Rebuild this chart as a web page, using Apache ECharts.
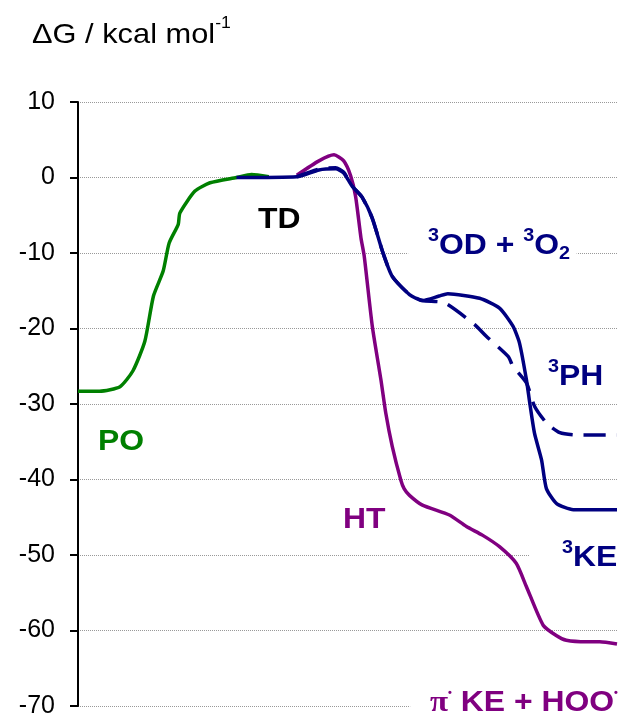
<!DOCTYPE html>
<html>
<head>
<meta charset="utf-8">
<script src="https://cdn.jsdelivr.net/npm/echarts@6/dist/echarts.min.js"></script>
<style>
html, body { margin: 0; padding: 0; background: #fff; }
#chart { width: 627px; height: 720px; }
</style>
</head>
<body>
<div id="chart"></div>
<script>
// reaction coordinate (arbitrary units 0-100) and ΔG in kcal/mol
var poX = [0, 4.0, 7.8, 10.2, 12.4, 14.0, 15.8, 16.9, 18.6, 18.9, 21.7, 24.5, 29.4, 32.2, 35.4];
var poY = [-28.3, -28.3, -27.7, -25.6, -21.7, -15.7, -12.4, -8.7, -6.2, -4.7, -1.8, -0.7, 0, 0.4, 0.1];

var htX = [40.6, 44.7, 47.5, 49.3, 50.6, 51.5, 52.5, 53.1, 54.6, 56.2, 57.1, 58.3, 59.9, 60.5, 61.5,
  63.9, 68.9, 72.0, 75.1, 78.2, 81.3, 83.2, 86.3, 88.8, 90.6, 94.4, 96.8, 100];
var htY = [0.3, 2.2, 3.0, 2.2, 0.2, -2.5, -8.0, -10.4, -19.7, -26.8, -31.2, -35.6, -40.1, -41.2, -42.1,
  -43.4, -44.7, -46.2, -47.4, -48.9, -51.1, -54.2, -59.3, -60.7, -61.3, -61.5, -61.5, -61.8];

var phX = [40.6, 44.7, 47.8, 49.3, 50.8, 52.7, 54.6, 56.5, 58.3, 61.5, 63.9, 68.0, 73.6, 75.7, 79.8,
  80.7, 83.2, 84.7, 86.9, 89.4, 92.5, 100];
var phY = [0.1, 1.1, 1.3, 0.7, -1.1, -2.6, -5.4, -9.8, -13.1, -15.5, -16.3, -16.6, -19.5, -21.0, -23.7,
  -25.0, -27.2, -30.3, -32.5, -33.8, -34.1, -34.1];

var keX = [29.4, 40.6, 44.7, 47.8, 49.3, 50.8, 52.7, 54.6, 56.5, 58.3, 61.5, 63.9, 67.0, 68.6, 74.5,
  78.2, 80.7, 81.9, 83.2, 83.8, 84.7, 86.0, 86.9, 88.8, 91.9, 100];
var keY = [0, 0.1, 1.0, 1.15, 0.6, -1.1, -2.6, -5.4, -9.8, -13.1, -15.5, -16.3, -15.7, -15.4, -16.0,
  -17.3, -19.7, -21.9, -26.8, -29.8, -33.9, -37.4, -41.2, -43.2, -44.0, -44.0];

var yTicks = { min: -70, max: 10, step: 10 };

var GREEN = "#008000";
var NAVY = "#000080";
var PURPLE = "#800080";

function pairs(xs, ys) {
  return xs.map(function (x, i) {
    return [x, ys[i]];
  });
}

function richFor(color) {
  return {
    b: { fontSize: 29, fontWeight: "bold", fill: color, lineHeight: 30, fontFamily: "Liberation Sans" },
    s: { fontSize: 18, fontWeight: "bold", fill: color, verticalAlign: "top", lineHeight: 10, height: 10, fontFamily: "Liberation Sans" },
    d: { fontSize: 18, fontWeight: "bold", fill: color, verticalAlign: "bottom", lineHeight: 13, height: 13, fontFamily: "Liberation Sans" },
    dot: { fontSize: 10, fontWeight: "bold", fill: color, verticalAlign: "top", lineHeight: 10, height: 10, fontFamily: "Liberation Sans" },
    p: { fontSize: 30, fontWeight: "bold", fill: color, lineHeight: 30, fontFamily: "Liberation Serif" },
  };
}

// left = left of first glyph, y = middle of capitals
function label(left, y, text, color, padL) {
  var sx = 1.1;
  padL = padL || 0;
  return {
    type: "text",
    x: left - padL * sx,
    y: y,
    scaleX: sx,
    z: 100,
    style: {
      text: text,
      fill: color,
      align: "left",
      verticalAlign: "middle",
      rich: richFor(color),
      backgroundColor: padL ? "#fff" : null,
      padding: padL ? [2, 6, 2, padL] : 0,
    },
  };
}

var myChart = echarts.init(document.getElementById("chart"));
var option = {
  animation: false,
  grid: { left: 78, right: 10, top: 102, bottom: 14 },
  xAxis: { type: "value", min: 0, max: 100, show: false },
  yAxis: {
    type: "value",
    min: yTicks.min,
    max: yTicks.max,
    interval: yTicks.step,
    axisLine: { show: true, lineStyle: { color: "#000", width: 2 } },
    axisTick: { show: true, inside: false, length: 8, lineStyle: { color: "#000", width: 2 } },
    axisLabel: { color: "#000", fontSize: 25, margin: 23, fontFamily: "Liberation Sans" },
    splitLine: { show: true, lineStyle: { color: "#999", width: 1, type: [1, 1] } },
  },
  series: [
    {
      name: "PO", type: "line", data: pairs(poX, poY), showSymbol: false, symbol: "none", smooth: 0.2,
      lineStyle: { color: GREEN, width: 3.5 }, itemStyle: { color: GREEN },
    },
    {
      name: "HT", type: "line", data: pairs(htX, htY), showSymbol: false, symbol: "none", smooth: 0.2,
      lineStyle: { color: PURPLE, width: 3.5 }, itemStyle: { color: PURPLE },
    },
    {
      name: "3PH", type: "line", data: pairs(phX, phY), showSymbol: false, symbol: "none", smooth: 0.2,
      lineStyle: { color: NAVY, width: 3.5, type: [22, 11] }, itemStyle: { color: NAVY },
    },
    {
      name: "3KE", type: "line", data: pairs(keX, keY), showSymbol: false, symbol: "none", smooth: 0.2,
      lineStyle: { color: NAVY, width: 3.5 }, itemStyle: { color: NAVY },
    },
  ],
  graphic: [
    {
      type: "text", x: 32, y: 35, scaleX: 1.1, z: 100,
      style: {
        text: "{n|ΔG / kcal mol}{s|-1}",
        verticalAlign: "middle",
        rich: {
          n: { fontSize: 28, fill: "#000", lineHeight: 34, fontFamily: "Liberation Sans" },
          s: { fontSize: 16, fill: "#000", verticalAlign: "top", lineHeight: 11, height: 11, fontFamily: "Liberation Sans" },
        },
      },
    },
    label(258, 220, "{b|TD}", "#000"),
    label(98, 442, "{b|PO}", GREEN),
    label(343, 520, "{b|HT}", PURPLE),
    label(428, 246, "{s|3}{b|OD + }{s|3}{b|O}{d|2}", NAVY, 18),
    label(548, 377, "{s|3}{b|PH}", NAVY),
    label(562, 558, "{s|3}{b|KE}", NAVY, 30),
    label(430, 703, "{p|π}{dot|•}{b| KE + HOO}{dot|•}", PURPLE, 18),
  ],
};
myChart.setOption(option);
</script>
</body>
</html>
